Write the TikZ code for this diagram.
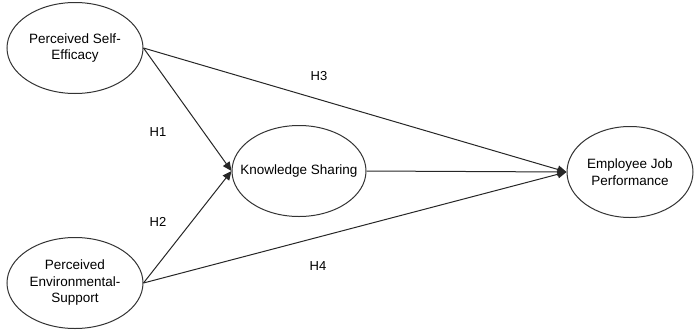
\documentclass[tikz,border=0pt]{standalone}
\usepackage{fontspec}
\setmainfont{Liberation Sans}
\usetikzlibrary{shapes.geometric,arrows.meta}
\tikzset{
  construct/.style={ellipse, draw=black!80, line width=1pt, minimum width=136pt, minimum height=91pt, inner sep=0pt, align=center, font=\fontsize{13.5}{16.5}\selectfont},
  hyp/.style={-{Triangle[length=9pt,width=8pt]}, line width=1pt, draw=black!85},
  hlabel/.style={font=\fontsize{13}{15}\selectfont, fill=white, inner sep=2pt}
}
\begin{document}
\begin{tikzpicture}[x=1pt, y=-1pt]
\useasboundingbox (0,0) rectangle (694,330);
% constructs
\node[construct] (pse) at (75,48) {Perceived Self-\\Efficacy};
\node[construct] (pes) at (75,283) {Perceived\\Environmental-\\Support};
\node[construct, minimum width=134pt, inner xsep=-12pt] (ks) at (299,171) {Knowledge Sharing};
\node[construct, minimum width=126pt] (ejp) at (630,172) {Employee Job\\Performance};
% paths
\draw[hyp] (pse.east) -- (ks.west);
\draw[hyp] (pes.east) -- (ks.west);
\draw[hyp] (pse.east) -- (ejp.west);
\draw[hyp] (pes.east) -- (ejp.west);
\draw[hyp] (ks.east) -- (ejp.west);
% hypothesis labels
\node[hlabel] (h1) at (158,132) {H1};
\node[hlabel] (h2) at (158,222) {H2};
\node[hlabel] (h3) at (319,76) {H3};
\node[hlabel] (h4) at (318,266) {H4};
\end{tikzpicture}
\end{document}
